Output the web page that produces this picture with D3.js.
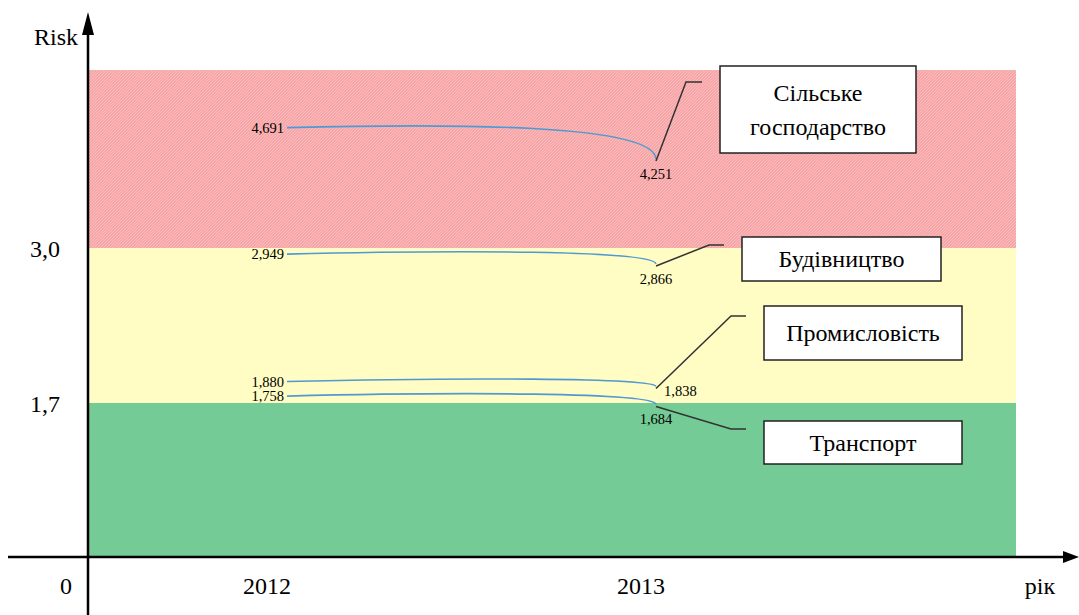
<!DOCTYPE html>
<html>
<head>
<meta charset="utf-8">
<script src="https://cdn.jsdelivr.net/npm/d3@7"></script>
<style>
  html, body { margin: 0; padding: 0; background: #fff; }
  svg { display: block; }
  svg text { font-family: "Liberation Serif", "DejaVu Serif", serif; }
</style>
</head>
<body>
<div id="chart"></div>
<script>
// data
const years = [2012, 2013];
const sectors = ['Сільське господарство', 'Будівництво', 'Промисловість', 'Транспорт'];
const risk2012 = [4.691, 2.949, 1.880, 1.758];
const risk2013 = [4.251, 2.866, 1.838, 1.684];
const zoneBounds = [0, 1.7, 3.0, 5.5];
const yTicks = [0, 1.7, 3.0];

const width = 1079;
const height = 615;
const serif = 'Liberation Serif, DejaVu Serif, serif';
const zoneColors = ['#74cb95', '#fffcc4', 'url(#hatch)'];

// callout boxes (layout only)
const callouts = [
  { box: [720, 66, 196, 87], elbow: [686, 82], lines: ['Сільське', 'господарство'], endLabel: 'below' },
  { box: [742, 237, 199, 44], elbow: [709, 245], lines: ['Будівництво'], endLabel: 'below' },
  { box: [764, 306, 198, 54], elbow: [731, 316], lines: ['Промисловість'], endLabel: 'right' },
  { box: [764, 421, 198, 43], elbow: [731, 429], lines: ['Транспорт'], endLabel: 'below' }
];

const fmt = d3.formatLocale({ decimal: ',', thousands: ' ', grouping: [3], currency: ['', ''] });
const f3 = fmt.format('.3f');
const f1 = fmt.format('.1f');

const svg = d3.select('#chart')
  .append('svg')
  .attr('width', width)
  .attr('height', height)
  .attr('font-family', serif);

const defs = svg.append('defs');
const hatch = defs.append('pattern')
  .attr('id', 'hatch')
  .attr('patternUnits', 'userSpaceOnUse')
  .attr('width', 3)
  .attr('height', 3);
hatch.append('rect').attr('width', 3).attr('height', 3).attr('fill', '#f7a6a7');
hatch.append('path').attr('d', 'M0,3L3,0').attr('stroke', '#fbc1c1').attr('stroke-width', 0.8);

// scales: the axis is schematic, each zone gets its own linear piece
const y = d3.scaleLinear().domain(zoneBounds).range([557, 403, 248, 70]);
const x = d3.scaleLinear().domain(years).range([267, 641]);
const plotLeft = 89;
const plotRight = 1016;

// risk zones
svg.append('g').selectAll('rect')
  .data(d3.pairs(zoneBounds))
  .join('rect')
    .attr('x', plotLeft)
    .attr('width', plotRight - plotLeft)
    .attr('y', (d) => y(d[1]))
    .attr('height', (d) => y(d[0]) - y(d[1]))
    .attr('fill', (d, i) => zoneColors[i]);

// axes
const axisY = y(0);
svg.append('line')
  .attr('x1', 8).attr('x2', width - 14)
  .attr('y1', axisY).attr('y2', axisY)
  .attr('stroke', '#000').attr('stroke-width', 2.5);
svg.append('path')
  .attr('d', `M${width},${axisY}L${width - 16},${axisY - 6}L${width - 16},${axisY + 6}Z`)
  .attr('fill', '#000');
svg.append('line')
  .attr('x1', 88).attr('x2', 88)
  .attr('y1', height).attr('y2', 30)
  .attr('stroke', '#000').attr('stroke-width', 2.5);
svg.append('path')
  .attr('d', 'M88,12L82,35L94,35Z')
  .attr('fill', '#000');

svg.append('text')
  .attr('x', 78).attr('y', 45)
  .attr('text-anchor', 'end')
  .attr('font-family', serif)
  .attr('font-size', 24)
  .text('Risk');

svg.append('g').selectAll('text')
  .data(yTicks)
  .join('text')
    .attr('x', (d) => d === 0 ? 72 : 60)
    .attr('y', (d) => d === 0 ? 594 : y(d) + 9)
    .attr('text-anchor', 'end')
    .attr('font-family', serif)
    .attr('font-size', 24)
    .text((d) => d === 0 ? '0' : f1(d));

svg.append('g').selectAll('text')
  .data(years)
  .join('text')
    .attr('x', (d) => x(d))
    .attr('y', 594)
    .attr('text-anchor', 'middle')
    .attr('font-family', serif)
    .attr('font-size', 24)
    .text((d) => d);

svg.append('text')
  .attr('x', 1040).attr('y', 594)
  .attr('text-anchor', 'middle')
  .attr('font-family', serif)
  .attr('font-size', 24)
  .text('рік');

// series
const series = sectors.map((name, i) => ({
  name,
  start: [x(2012) + 20, y(risk2012[i])],
  end: [x(2013) + 15, y(risk2013[i])],
  v0: risk2012[i],
  v1: risk2013[i],
  callout: callouts[i]
}));

function curvePath(d) {
  const [sx, sy] = d.start;
  const [ex, ey] = d.end;
  const dx = ex - sx;
  const top = Math.min(sy, ey) - 4;
  const p = d3.path();
  p.moveTo(sx, sy);
  p.bezierCurveTo(sx + dx * 0.45, top, ex - 2, top, ex, ey);
  return p.toString();
}

svg.append('g').selectAll('path')
  .data(series)
  .join('path')
    .attr('d', curvePath)
    .attr('fill', 'none')
    .attr('stroke', '#4f9ad3')
    .attr('stroke-width', 1.6);

// leader lines
svg.append('g').selectAll('path')
  .data(series)
  .join('path')
    .attr('d', (d) => {
      const c = d.callout;
      return `M${d.end[0]},${d.end[1] + 2}L${c.elbow[0]},${c.elbow[1]}L${c.box[0] - 18},${c.elbow[1]}`;
    })
    .attr('fill', 'none')
    .attr('stroke', '#333')
    .attr('stroke-width', 1.5);

// value labels
svg.append('g').selectAll('text')
  .data(series)
  .join('text')
    .attr('x', (d) => d.start[0] - 3)
    .attr('y', (d) => d.start[1] + 5)
    .attr('text-anchor', 'end')
    .attr('font-family', serif)
    .attr('font-size', 14.5)
    .text((d) => f3(d.v0));

svg.append('g').selectAll('text')
  .data(series)
  .join('text')
    .attr('x', (d) => d.callout.endLabel === 'right' ? d.end[0] + 8 : d.end[0])
    .attr('y', (d) => d.callout.endLabel === 'right' ? d.end[1] + 9 : d.end[1] + 20)
    .attr('text-anchor', (d) => d.callout.endLabel === 'right' ? 'start' : 'middle')
    .attr('font-family', serif)
    .attr('font-size', 14.5)
    .text((d) => f3(d.v1));

// callout boxes
const boxes = svg.append('g').selectAll('g')
  .data(series)
  .join('g');

boxes.append('rect')
  .attr('x', (d) => d.callout.box[0])
  .attr('y', (d) => d.callout.box[1])
  .attr('width', (d) => d.callout.box[2])
  .attr('height', (d) => d.callout.box[3])
  .attr('fill', '#fff')
  .attr('stroke', '#222')
  .attr('stroke-width', 1.5);

boxes.each(function (d) {
  const [bx, by, bw, bh] = d.callout.box;
  const n = d.callout.lines.length;
  const lineH = 34;
  const first = by + bh / 2 - (n - 1) * lineH / 2 + 8;
  d3.select(this).selectAll('text')
    .data(d.callout.lines)
    .join('text')
      .attr('x', bx + bw / 2)
      .attr('y', (t, i) => first + i * lineH)
      .attr('text-anchor', 'middle')
      .attr('font-family', serif)
      .attr('font-size', 24)
      .text((t) => t);
});
</script>
</body>
</html>
